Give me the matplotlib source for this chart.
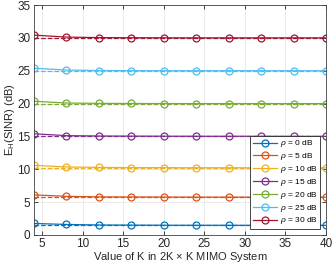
import matplotlib
matplotlib.use("Agg")
import matplotlib.pyplot as plt

plt.rcParams['font.family'] = ['Liberation Sans', 'DejaVu Sans']
plt.rcParams['mathtext.fontset'] = 'custom'
plt.rcParams['mathtext.rm'] = 'Liberation Sans'
plt.rcParams['mathtext.it'] = 'Liberation Sans:italic'

K = [4, 8, 12, 16, 20, 24, 28, 32, 36, 40]
rho_labels = ["0", "5", "10", "15", "20", "25", "30"]
colors = ["#0072BD", "#D95319", "#EDB120", "#7E2F8E", "#77AC30", "#4DBEEE", "#A2142F"]

sim_0 = [1.75, 1.60, 1.52, 1.50, 1.48, 1.47, 1.47, 1.46, 1.46, 1.46]
sim_5 = [6.10, 5.88, 5.80, 5.78, 5.77, 5.76, 5.76, 5.75, 5.75, 5.75]
sim_10 = [10.60, 10.35, 10.28, 10.25, 10.24, 10.23, 10.23, 10.22, 10.22, 10.22]
sim_15 = [15.40, 15.12, 15.06, 15.04, 15.03, 15.02, 15.02, 15.02, 15.01, 15.01]
sim_20 = [20.35, 20.08, 20.03, 20.01, 20.00, 20.00, 20.00, 20.00, 20.00, 20.00]
sim_25 = [25.38, 25.10, 25.03, 25.01, 25.00, 25.00, 25.00, 25.00, 25.00, 25.00]
sim_30 = [30.42, 30.12, 30.04, 30.02, 30.01, 30.00, 30.00, 30.00, 30.00, 30.00]
sims = [sim_0, sim_5, sim_10, sim_15, sim_20, sim_25, sim_30]

approx = [1.45, 5.74, 10.20, 15.00, 20.00, 25.00, 30.00]

fig = plt.figure(figsize=(3.32, 2.64), dpi=100)
ax = fig.add_axes([0.102, 0.11, 0.88, 0.871])

handles = []
for s, a, c, lab in zip(sims, approx, colors, rho_labels):
    h, = ax.plot(K, s, '-o', color=c, lw=0.9, ms=5, mfc='none', mew=0.9,
                 label=r'$\rho$ = ' + lab + ' dB')
    ax.plot([K[0], K[-1]], [a, a], '--', color=c, lw=0.9)
    handles.append(h)

ax.set_xlim(4, 40)
ax.set_ylim(0, 35)
ax.set_xticks([5, 10, 15, 20, 25, 30, 35, 40])
ax.set_yticks([0, 5, 10, 15, 20, 25, 30, 35])
ax.grid(True, color='#e6e6e6', lw=0.6)
ax.set_axisbelow(True)
ax.tick_params(direction='in', top=True, right=True, length=3, labelsize=8.5,
               colors='#262626', width=0.6, pad=2.5)
for sp in ax.spines.values():
    sp.set_color('#404040')
    sp.set_linewidth(0.6)

ax.set_xlabel(r'Value of K in 2K $\times$ K MIMO System', fontsize=8, color='#262626', labelpad=0)
ax.set_ylabel(r'E$_\mathrm{H}$(SINR) (dB)', fontsize=8, color='#262626', labelpad=0)

leg = ax.legend(handles=handles, loc='lower right', bbox_to_anchor=(0.98, 0.026),
                borderaxespad=0, fontsize=6, handlelength=2.9, labelspacing=0.22,
                borderpad=0.3, handletextpad=0.35, fancybox=False, framealpha=1)
leg.get_frame().set_edgecolor('#262626')
leg.get_frame().set_linewidth(0.6)

fig.savefig('out.png', dpi=100)
